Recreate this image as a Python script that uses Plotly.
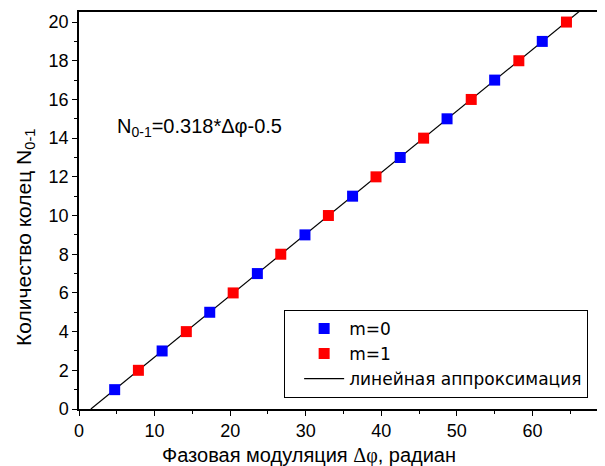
import plotly.graph_objects as go
import numpy as np

# Data
n_m0 = [1, 3, 5, 7, 9, 11, 13, 15, 17, 19]
x_m0 = [4.72, 11.0, 17.3, 23.6, 29.9, 36.2, 42.5, 48.7, 55.0, 61.3]
n_m1 = [2, 4, 6, 8, 10, 12, 14, 16, 18, 20]
x_m1 = [7.86, 14.2, 20.4, 26.7, 33.0, 39.3, 45.6, 51.9, 58.2, 64.5]
fit_slope = 0.318
fit_intercept = -0.5
fit_x = [1.572, 70.0]
fit_y = [fit_slope * v + fit_intercept for v in fit_x]

x_title = 'Фазовая модуляция <span style="font-family:Liberation Serif">Δφ</span>, радиан'
y_title = "Количество колец N<sub>0-1</sub>"
fit_label = "N<sub>0-1</sub>=0.318*Δφ-0.5"

font = "Liberation Sans, Arial, sans-serif"

fig = go.Figure()
fig.add_trace(go.Scatter(x=fit_x, y=fit_y, mode="lines", name="линейная аппроксимация",
                         line=dict(color="black", width=1.2), showlegend=False))
fig.add_trace(go.Scatter(x=x_m0, y=n_m0, mode="markers", name="m=0",
                         marker=dict(symbol="square", size=11, color="#0000ff", line=dict(width=0))))
fig.add_trace(go.Scatter(x=x_m1, y=n_m1, mode="markers", name="m=1",
                         marker=dict(symbol="square", size=11, color="#ff0000", line=dict(width=0))))
fig.add_trace(go.Scatter(x=[None], y=[None], mode="lines", name="линейная аппроксимация",
                         line=dict(color="black", width=1.2)))

# page body has an 8px margin; margins compensate for it
fig.update_layout(
    width=605, height=466,
    margin=dict(l=71, r=8, t=4, b=65),
    paper_bgcolor="white", plot_bgcolor="white",
    font=dict(family=font, size=18, color="black"),
    xaxis=dict(range=[0, 69.6], tickmode="linear", tick0=0, dtick=10,
               ticks="outside", ticklen=5, tickwidth=1, tickcolor="black",
               minor=dict(dtick=5, ticks="outside", ticklen=3, tickcolor="black"),
               showline=True, linecolor="black", linewidth=1.5, mirror=True,
               showgrid=False, zeroline=False, automargin=False,
               tickfont=dict(size=18)),
    yaxis=dict(range=[0, 20.52], tickmode="linear", tick0=0, dtick=2,
               ticks="outside", ticklen=5, tickwidth=1, tickcolor="black",
               minor=dict(dtick=1, ticks="outside", ticklen=3, tickcolor="black"),
               showline=True, linecolor="black", linewidth=1.5,
               showgrid=False, zeroline=False, automargin=False,
               tickfont=dict(size=18)),
    legend=dict(x=0.39, y=0.028, xanchor="left", yanchor="bottom",
                bordercolor="black", borderwidth=1, bgcolor="white",
                font=dict(size=17, family="DejaVu Sans, Liberation Sans, sans-serif"),
                itemwidth=40, indentation=14),
    annotations=[
        dict(text=fit_label, x=0.068, y=0.71, xref="paper", yref="paper",
             xanchor="left", yanchor="middle", showarrow=False, font=dict(size=20)),
        dict(text=x_title, x=0.437, y=-0.116, xref="paper", yref="paper",
             xanchor="center", yanchor="middle", showarrow=False, font=dict(size=20)),
        dict(text=y_title, x=-0.103, y=0.433, xref="paper", yref="paper", textangle=-90,
             xanchor="center", yanchor="middle", showarrow=False, font=dict(size=21)),
    ],
)

fig.write_html("out.html")
